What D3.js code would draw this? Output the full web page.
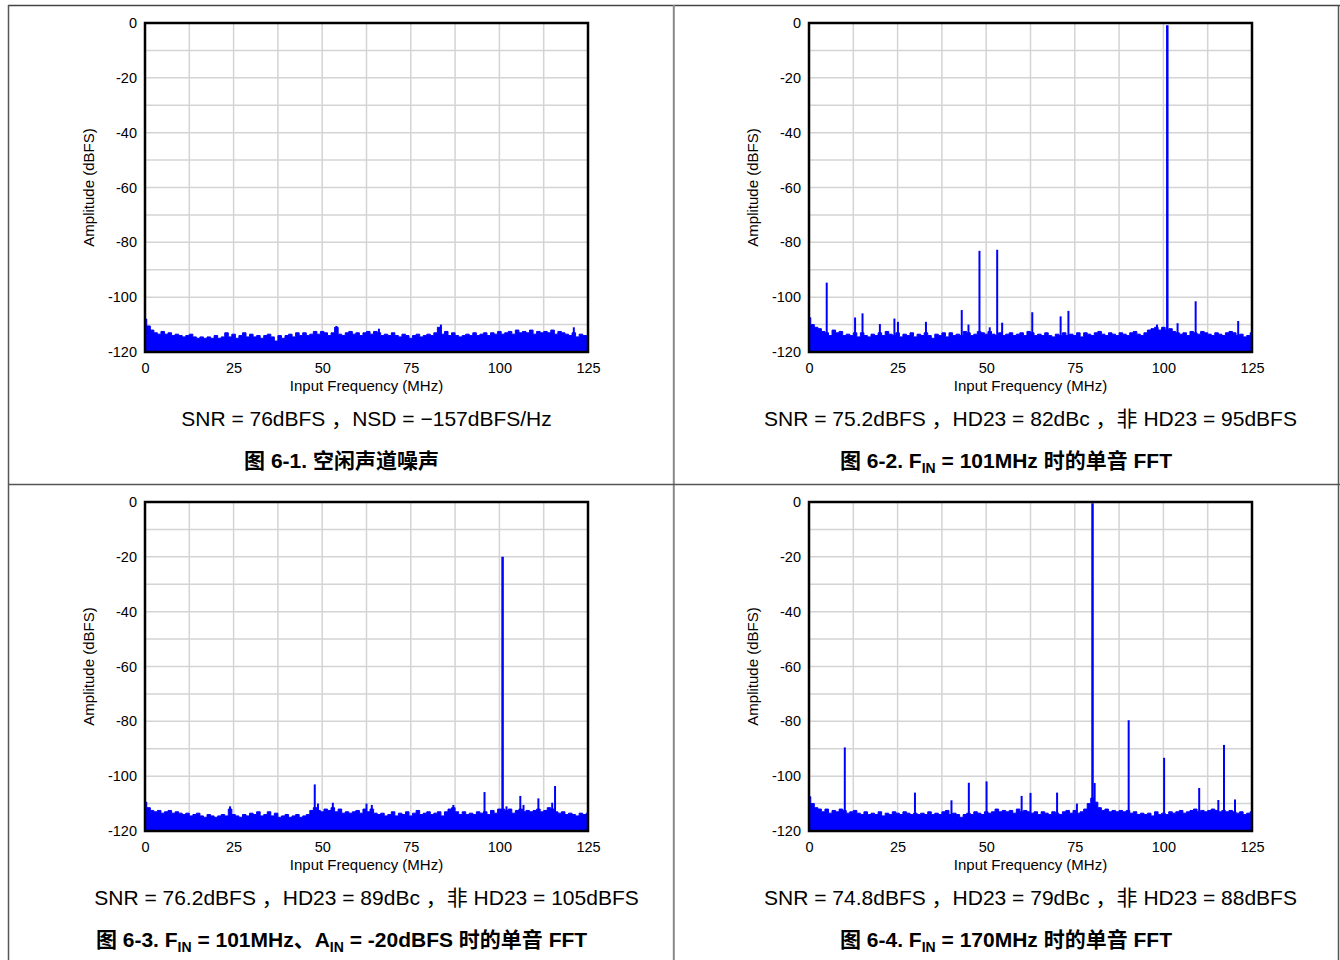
<!DOCTYPE html>
<html>
<head>
<meta charset="utf-8">
<script src="https://cdn.jsdelivr.net/npm/d3@7"></script>
<style>
body{margin:0;background:#fff}
text{font-family:"Liberation Sans",Arial,"Noto Sans CJK SC",sans-serif;fill:#000}
</style>
</head>
<body>
<div id="fig"></div>
<script>
// axis ticks shared by all four FFT plots
var xTicks = [0, 25, 50, 75, 100, 125];
var yTicks = [0, -20, -40, -60, -80, -100, -120];

// noise floor top, one value per MHz (0..125)
var noiseIdle = [-108,-110.5,-112,-113,-113.5,-112.5,-113.5,-113,-114,-113.5,-114,-114.5,-114,-113.5,-114.5,-115,-114.5,-115,-114.5,-115,
  -114,-115,-114.5,-113,-114.5,-113.5,-115,-114,-113,-114.5,-113.5,-114.5,-114,-115,-114,-113.5,-114.5,-116,-114,-115,
  -114,-113.5,-114.5,-113,-114,-113,-114,-113.5,-112.5,-113.5,-112.5,-113,-114,-113,-111,-113.5,-114,-113,-112.5,-113.5,
  -113,-114,-113,-112.5,-113.5,-112.5,-113,-114,-113.5,-114,-113,-114,-114.5,-113.5,-114,-115,-114,-113.5,-114.5,-114,
  -113.5,-114,-113,-111,-113.5,-112.5,-114,-113,-114,-114.5,-114,-113.5,-114,-113,-114,-113.5,-113,-114,-113,-113.5,
  -112.5,-113.5,-113,-112.5,-113.5,-112,-113,-112.5,-113,-112,-113.5,-112.5,-113,-112.5,-113,-112,-113.5,-112.5,-113,-113.5,
  -114,-113,-114.5,-113.5,-114,-114];
var noise101 = [-107.5,-110,-111,-111.5,-112.5,-113,-114,-112,-113,-112.5,-114,-113.5,-114,-113,-114.5,-113,-114,-114.5,-113.5,-114,
  -113,-114,-112.5,-113.5,-114,-113,-114.5,-113.5,-114,-113,-114.5,-113.5,-114,-113,-114,-115,-113.5,-114,-113,-114.5,
  -113,-114,-113.5,-114,-112.5,-113,-114,-113.5,-112.5,-113,-113.5,-112.5,-113.5,-114,-113,-114,-113.5,-113,-114,-113.5,
  -113,-114,-112.5,-113,-114,-113.5,-114,-113,-114,-114.5,-113.5,-114,-113,-114,-113.5,-114,-113,-114.5,-113,-113.5,
  -114,-113,-112.5,-113.5,-114,-113,-113.5,-114,-113,-113.5,-114,-113,-112.5,-113.5,-114,-113,-112,-111.5,-111,-112,
  -111,-112,-111.5,-112.5,-113,-113.5,-113,-114,-112.5,-113,-113.5,-112.5,-113,-113.5,-114,-113,-113.5,-114,-113,-112.5,
  -113,-114,-113.5,-114.5,-114,-113];
var noise101m20 = [-109.5,-111.5,-112.5,-113,-112.5,-113.5,-113,-112.5,-113.5,-113,-113.5,-114,-113.5,-114.5,-114,-113.5,-114.5,-115,-114,-114.5,
  -115,-114.5,-114,-114.5,-112,-114,-114.5,-115,-114,-114.5,-113.5,-114,-113,-114.5,-114,-113,-114.5,-113.5,-115,-114.5,
  -114,-115,-114.5,-114,-115,-114.5,-114,-112.5,-111.5,-112.5,-113,-112,-112.5,-111.5,-113,-112,-113.5,-113,-113.5,-113,
  -112.5,-113.5,-112,-113,-112,-113.5,-114,-113.5,-114.5,-114,-113,-114.5,-113.5,-114,-113,-114.5,-113.5,-112.5,-114,-113.5,
  -113,-114,-113.5,-113,-114.5,-113,-112,-111.5,-113,-114,-113,-114,-113.5,-114,-113,-113.5,-113,-114,-112.5,-113.5,
  -112,-112,-112.5,-112,-113.5,-112.5,-112,-113,-112.5,-113,-112.5,-112,-113,-112.5,-111.5,-112,-113,-113.5,-113,-114,
  -113.5,-114,-114.5,-113.5,-114,-113.5];
var noise170 = [-107.5,-110,-111.5,-112,-113,-112,-113.5,-112.5,-113,-112,-112.5,-113.5,-113,-112.5,-113.5,-114,-113,-114,-113.5,-114,
  -113,-114.5,-113.5,-114,-113,-113.5,-114,-113,-113.5,-114,-113.5,-114,-113.5,-114,-113,-114,-113.5,-114,-113,-112.5,
  -114,-113.5,-114,-115,-114,-113.5,-114,-113,-113.5,-114,-113,-113.5,-113,-112,-113,-112.5,-113,-112.5,-113.5,-112,
  -113,-112.5,-113,-113.5,-113,-114,-113,-113.5,-114,-113,-113.5,-114,-113,-112.5,-113.5,-112.5,-113.5,-113,-112,-110,
  -108,-109.5,-111.5,-112.5,-112,-113,-112.5,-113,-112.5,-113,-112.5,-113.5,-113,-114,-113.5,-114,-113.5,-114.5,-113,-114,
  -113.5,-114,-113,-113.5,-113,-112.5,-113.5,-113,-112.5,-112,-113,-112.5,-113,-112.5,-112,-112.5,-113,-112.5,-113,-112.5,
  -113,-113.5,-113,-114,-113.5,-113];

// tones and spurs [MHz, dBFS]
var spursIdle = [[54, -110.5], [66, -111.5], [83.5, -110], [121, -111]];
var spurs101 = [[5, -94.7], [13, -107.4], [15.1, -105.9], [20, -109.8], [24.1, -107.8], [25.1, -109], [33, -109],
  [43.1, -104.7], [45, -110], [48.1, -83.1], [51, -111], [53.1, -82.7], [54.5, -109.3], [63, -105.5], [71, -107],
  [73.2, -105], [98.2, -110], [101.1, -0.8], [104, -109.5], [109.1, -101.5], [121.1, -108.7]];
var spurs101m20 = [[24, -111], [47.9, -103], [48.8, -110], [53, -109.7], [62.5, -110], [64, -110.5], [87, -110.5],
  [95.8, -105.8], [100.9, -20], [102, -111], [105.9, -107.2], [106.8, -110.5], [111, -108.1], [114.9, -109.7], [115.7, -103.6]];
var spurs170 = [[10.1, -89.5], [29.9, -106], [40.2, -108.8], [45.1, -102.4], [50.1, -101.9], [60, -107.2], [62.5, -106.1],
  [70, -106], [75.6, -110], [80, -0.5], [80.6, -102.5], [90.2, -79.6], [100.2, -93.3], [110.1, -104.3], [115.5, -108.7],
  [117.1, -88.6], [120.2, -108.5]];

var statLines = [
  'SNR = 76dBFS \uFF0CNSD = \u2212157dBFS/Hz',
  'SNR = 75.2dBFS \uFF0CHD23 = 82dBc \uFF0C\u975E HD23 = 95dBFS',
  'SNR = 76.2dBFS \uFF0CHD23 = 89dBc \uFF0C\u975E HD23 = 105dBFS',
  'SNR = 74.8dBFS \uFF0CHD23 = 79dBc \uFF0C\u975E HD23 = 88dBFS'
];
// caption pieces: [text, subscript or null]
var captions = [
  [['图 6-1. 空闲声道噪声', null]],
  [['图 6-2. F', 'IN'], [' = 101MHz 时的单音 FFT', null]],
  [['图 6-3. F', 'IN'], [' = 101MHz、A', 'IN'], [' = -20dBFS 时的单音 FFT', null]],
  [['图 6-4. F', 'IN'], [' = 170MHz 时的单音 FFT', null]]
];

var W = 1340, H = 960;
var pw = 443, ph = 329;
var panels = [
  {left: 145, top: 23, mid: 341.5, noise: noiseIdle, spurs: spursIdle},
  {left: 809, top: 23, mid: 1006, noise: noise101, spurs: spurs101},
  {left: 145, top: 502, mid: 341.5, noise: noise101m20, spurs: spurs101m20},
  {left: 809, top: 502, mid: 1006, noise: noise170, spurs: spurs170}
];

var svg = d3.select('#fig').append('svg')
    .attr('width', W)
    .attr('height', H)
    .style('display', 'block');

svg.append('rect').attr('width', W).attr('height', H).attr('fill', '#fff');

// page frame and dividers
svg.append('line').attr('x1', 8).attr('x2', W).attr('y1', 5.5).attr('y2', 5.5).attr('stroke', '#444').attr('stroke-width', 1.5);
svg.append('line').attr('x1', 8.5).attr('x2', 8.5).attr('y1', 5).attr('y2', H).attr('stroke', '#555').attr('stroke-width', 1.5);
svg.append('line').attr('x1', 1338.5).attr('x2', 1338.5).attr('y1', 5).attr('y2', H).attr('stroke', '#555').attr('stroke-width', 1.5);
svg.append('line').attr('x1', 673.8).attr('x2', 673.8).attr('y1', 5).attr('y2', H).attr('stroke', '#888').attr('stroke-width', 2);
svg.append('line').attr('x1', 8).attr('x2', W).attr('y1', 484.5).attr('y2', 484.5).attr('stroke', '#555').attr('stroke-width', 1.5);

panels.forEach(function(p, k) {
  var x = d3.scaleLinear().domain([0, 125]).range([0, pw]);
  var y = d3.scaleLinear().domain([-120, 0]).range([ph, 0]);
  var g = svg.append('g').attr('transform', `translate(${p.left},${p.top})`);

  // grid
  g.selectAll('.vg').data(d3.range(12.5, 125, 12.5)).enter().append('line')
      .attr('x1', d => x(d)).attr('x2', d => x(d)).attr('y1', 0).attr('y2', ph)
      .attr('stroke', '#d4d4d4').attr('stroke-width', 1.5);
  g.selectAll('.hg').data(d3.range(-110, 0, 10)).enter().append('line')
      .attr('x1', 0).attr('x2', pw).attr('y1', d => y(d)).attr('y2', d => y(d))
      .attr('stroke', '#d4d4d4').attr('stroke-width', 1.5);

  // noise floor
  var step = 125 / (p.noise.length - 1);
  var area = d3.area()
      .curve(d3.curveStep)
      .x((d, i) => x(i * step))
      .y0(y(-120))
      .y1(d => y(d));
  g.append('path').datum(p.noise)
      .attr('d', area)
      .attr('fill', '#0000ff')
      .attr('stroke', '#0000ff')
      .attr('stroke-width', 1);

  // tones / spurs
  g.selectAll('.spur').data(p.spurs).enter().append('line')
      .attr('x1', d => x(d[0])).attr('x2', d => x(d[0]))
      .attr('y1', y(-120)).attr('y2', d => y(d[1]))
      .attr('stroke', '#0000ff')
      .attr('stroke-width', d => d[1] > -30 ? 2.5 : 2);

  // frame
  g.append('rect').attr('width', pw).attr('height', ph)
      .attr('fill', 'none').attr('stroke', '#000').attr('stroke-width', 2.5);

  // axes
  var ya = g.append('g').call(d3.axisLeft(y).tickValues(yTicks).tickFormat(d => String(d)).tickSize(0).tickPadding(8));
  var xa = g.append('g').attr('transform', `translate(0,${ph})`)
      .call(d3.axisBottom(x).tickValues(xTicks).tickFormat(d => String(d)).tickSize(0).tickPadding(11));
  [ya, xa].forEach(function(a) {
    a.select('.domain').remove();
    a.selectAll('text').style('font-size', '14.5px').attr('fill', '#000')
        .style('font-family', '"Liberation Sans", Arial, sans-serif');
  });

  g.append('text')
      .attr('transform', `translate(-51,${ph / 2})rotate(-90)`)
      .attr('text-anchor', 'middle')
      .style('font-size', '15px')
      .text('Amplitude (dBFS)');

  g.append('text')
      .attr('x', pw / 2).attr('y', ph + 39)
      .attr('text-anchor', 'middle')
      .style('font-size', '15px')
      .text('Input Frequency (MHz)');

  // stats line and caption
  var dy = k < 2 ? 0 : 479;
  svg.append('text')
      .attr('x', p.left + pw / 2).attr('y', 426 + dy)
      .attr('text-anchor', 'middle')
      .style('font-size', '21px')
      .text(statLines[k]);

  var cap = svg.append('text')
      .attr('x', p.mid).attr('y', 468 + dy)
      .attr('text-anchor', 'middle')
      .style('font-size', '21px')
      .style('font-weight', 'bold');
  var back = 0;
  captions[k].forEach(function(c) {
    cap.append('tspan').attr('dy', back).text(c[0]);
    back = 0;
    if (c[1]) {
      cap.append('tspan').attr('dy', 5).style('font-size', '14px').text(c[1]);
      back = -5;
    }
  });
});
</script>
</body>
</html>
